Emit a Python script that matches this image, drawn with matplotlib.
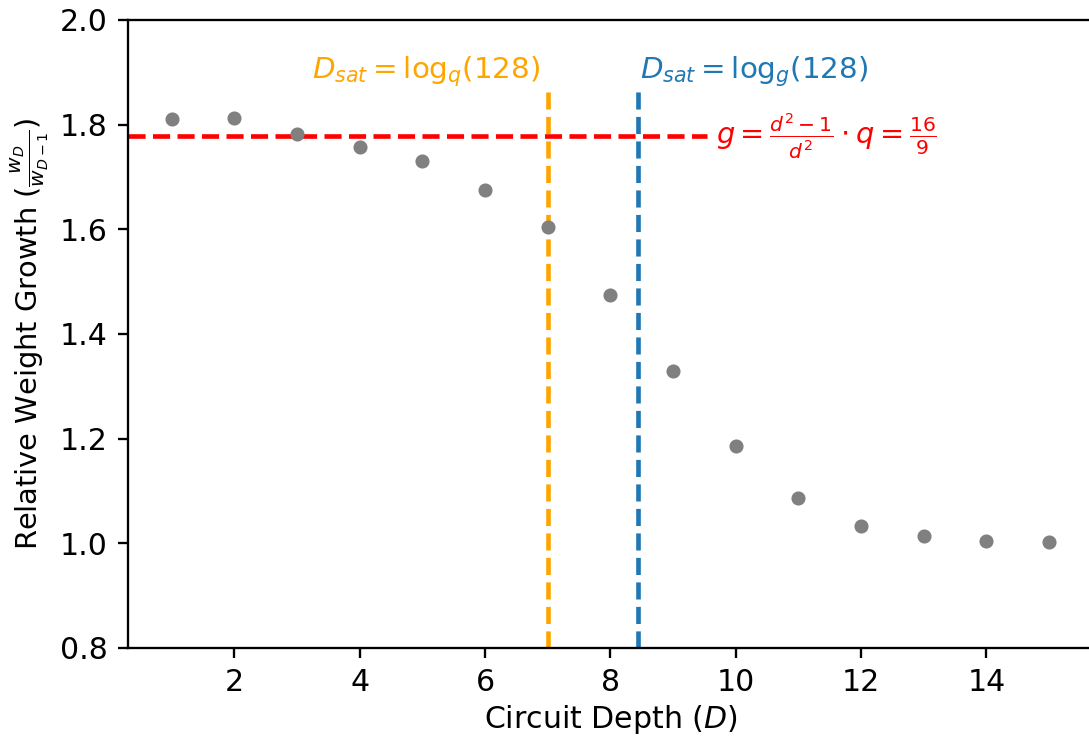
import matplotlib
matplotlib.use("Agg")
import matplotlib.pyplot as plt
import numpy as np

# relative weight growth w_D / w_{D-1} per circuit depth
depth = [1, 2, 3, 4, 5, 6, 7, 8, 9, 10, 11, 12, 13, 14, 15]
growth = [1.810, 1.812, 1.782, 1.757, 1.731, 1.675, 1.604, 1.474,
          1.329, 1.186, 1.087, 1.033, 1.014, 1.004, 1.002]

q = 2.0
g = 16 / 9
n_states = 128
d_sat_q = np.log(n_states) / np.log(q)
d_sat_g = np.log(n_states) / np.log(g)

DPI = 208
fig = plt.figure(figsize=(1089 / DPI, 737 / DPI), dpi=DPI)
ax = fig.add_axes([0.1175, 0.1208, 0.8862, 0.8521])

ax.scatter(depth, growth, s=15, color="gray", zorder=3)

ax.axhline(g, xmax=0.6, color="red", linestyle="--", linewidth=1.6)
ax.axvline(d_sat_q, ymax=0.89, color="orange", linestyle="--", linewidth=1.6)
ax.axvline(d_sat_g, ymax=0.89, color="tab:blue", linestyle="--", linewidth=1.6)

ax.text(d_sat_q - 0.12, 1.889, r"$D_{sat} = \mathrm{log}_q(128)$", color="orange",
        ha="right", va="baseline", fontsize=10.2)
ax.text(d_sat_g + 0.03, 1.889, r"$D_{sat} = \mathrm{log}_g(128)$", color="tab:blue",
        ha="left", va="baseline", fontsize=10.2)
ax.text(9.68, g, r"$g = \frac{d^2-1}{d^2} \cdot q = \frac{16}{9}$", color="red",
        ha="left", va="center", fontsize=10)

ax.set_xlim(0.3, 15.7)
ax.set_ylim(0.8, 2.0)
ax.set_yticks(np.arange(0.8, 2.01, 0.2))
ax.set_xticks([2, 4, 6, 8, 10, 12, 14])
ax.tick_params(labelsize=10.4)
ax.set_xlabel(r"Circuit Depth ($D$)", fontsize=10.4, labelpad=2)
ax.set_ylabel(r"Relative Weight Growth ($\frac{w_D}{w_{D-1}}$)", fontsize=10, labelpad=3)

fig.savefig("out.png", dpi=DPI)
